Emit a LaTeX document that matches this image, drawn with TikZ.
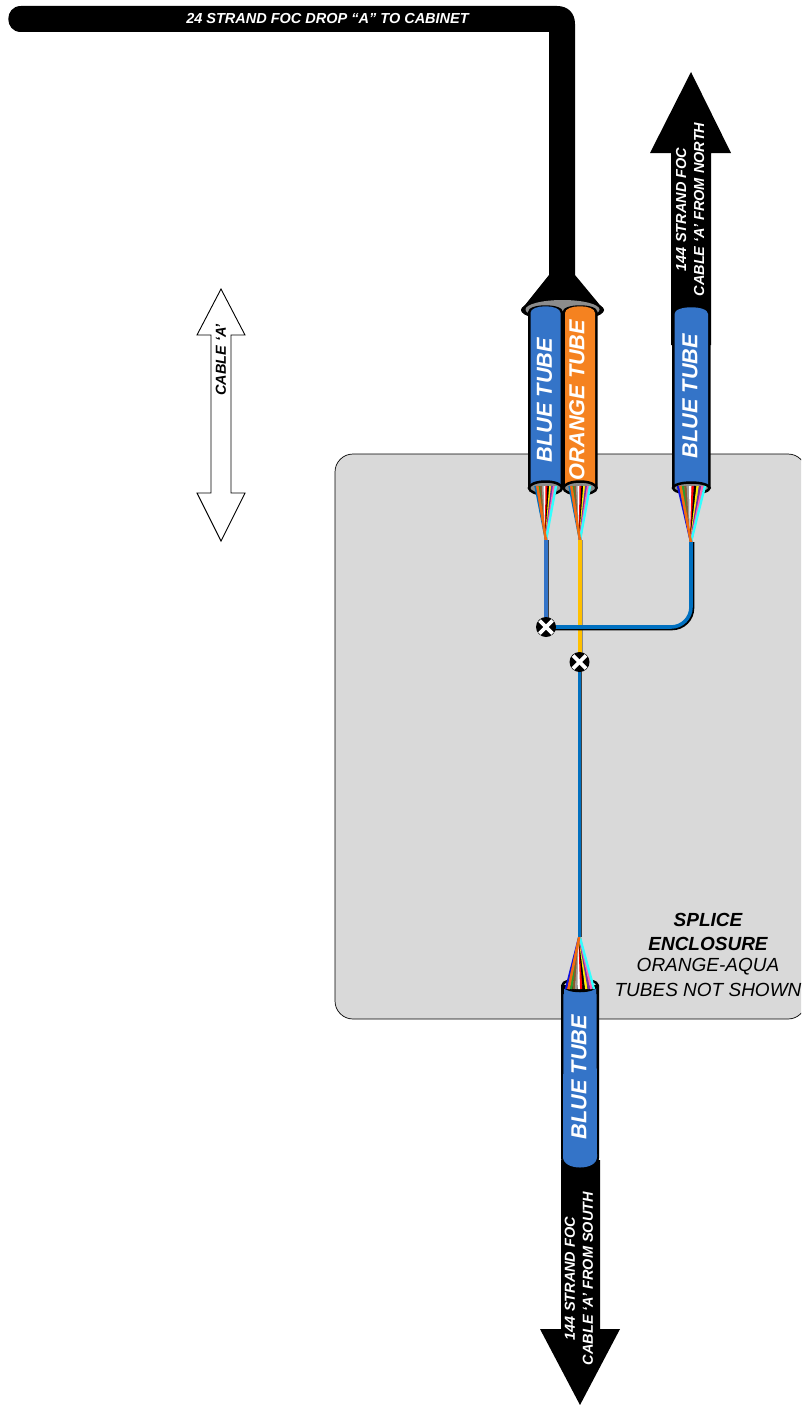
\documentclass[tikz,border=0pt]{standalone}
\usepackage{fontspec}
\setmainfont{Liberation Sans}
\definecolor{tubeblue}{HTML}{3474C8}
\definecolor{tubeorange}{HTML}{F58220}
\definecolor{boxgray}{HTML}{D9D9D9}
\definecolor{fibblue}{HTML}{0070C0}
\definecolor{fibyellow}{HTML}{FFC000}
\definecolor{rimgray}{HTML}{8C8C8C}
\definecolor{fibbrown}{HTML}{8B5A2B}
\definecolor{fibaqua}{HTML}{33FFFF}
\definecolor{fibviolet}{HTML}{7030A0}
\definecolor{fibpink}{HTML}{FF66B2}
\definecolor{fibgreen}{HTML}{22A030}
\definecolor{fibor}{HTML}{F26A10}
\definecolor{fibslate}{HTML}{999999}
\definecolor{fibdeep}{HTML}{1010E0}
\tikzset{
  lbl/.style={font=\bfseries\itshape\fontsize{14.5}{18}\selectfont,text=white,inner sep=0pt,align=center},
  tubetext/.style={font=\bfseries\itshape\fontsize{21.7}{24}\selectfont,text=white,inner sep=0pt,rotate=90},
  boxtext/.style={font=\itshape\fontsize{19}{20}\selectfont,inner sep=0pt},
  boxhead/.style={font=\bfseries\itshape\fontsize{19}{20}\selectfont,inner sep=0pt},
  fibershadow/.style={line width=3.6pt,line cap=butt},
  ball/.style={circle,fill=black,minimum size=20pt,inner sep=0pt,draw=none}
}
% fan: tipx tipy leftx rightx basey outer-blue-colour
\newcommand{\fibfan}[6]{%
  \foreach \c [count=\i from 0] in {#6,fibor,fibgreen,fibbrown,fibslate,white,red,black,yellow,fibviolet,fibpink,fibaqua}{%
    \draw[\c,line width=2.4pt] ({#3+\i*(#4-#3)/11},#5) -- (#1,#2);
  }%
  \draw[fibor,line width=2.4pt] ({#3+(#4-#3)/11},#5) -- (#1,#2);
}
% tube with opening at the bottom: xl xr top opening-y ry colour
\newcommand{\tubedown}[6]{%
  \fill[black] (#1,#3+6) .. controls (#1,#3-3) and (#2,#3-3) .. (#2,#3+6) -- (#2,#4) -- (#1,#4) -- cycle;
  \fill[#6] (#1+2.5,#3+7) .. controls (#1+2.5,#3-2) and (#2-2.5,#3-2) .. (#2-2.5,#3+7)
     -- (#2-2.5,#4) .. controls (#2-2.5,#4-#5) and (#1+2.5,#4-#5) .. (#1+2.5,#4) -- cycle;
  \draw[black,line width=2.5pt,fill=rimgray] ({(#1+#2)/2},#4) ellipse [x radius={(#2-#1)/2-1},y radius=#5];
}
\begin{document}
\begin{tikzpicture}[x=1pt,y=-1pt]
\useasboundingbox (0,0) rectangle (801,1405);
\begin{scope}
\clip (0,0) rectangle (801,1405);
% splice enclosure
\draw[black,line width=0.7pt,fill=boxgray,rounded corners=18pt] (335,454) rectangle (806,1019);

% top cable
\fill[black] (21,6) -- (557,6) .. controls (568,6) and (575,13) .. (575,24) -- (575,275) -- (604,310)
  .. controls (604,318) and (521,318) .. (521,310) -- (549,275) -- (549,32) -- (21,32)
  .. controls (4,32) and (4,6) .. (21,6) -- cycle;
\fill[black] (562.5,310) ellipse [x radius=41.5,y radius=11];
\fill[rimgray] (562.5,309.5) ellipse [x radius=37,y radius=9.5];

% north arrow
\fill[black] (691,72) -- (731,153) -- (711,153) -- (711,345) -- (671,345) -- (671,153) -- (650,153) -- cycle;
% south arrow
\fill[black] (561,1160) -- (600,1160) -- (600,1329) -- (620,1329) -- (580,1405) -- (540,1329) -- (561,1329) -- cycle;

% tubes
\tubedown{528}{563}{306}{488}{6.5}{tubeblue}
\tubedown{562.5}{597.5}{306}{488}{6.5}{tubeorange}
\tubedown{672}{710.5}{307}{488}{5.5}{tubeblue}

% fibres
\fibfan{546}{540}{535.5}{556}{486}{fibblue}
\fibfan{580}{540}{569.5}{590}{486}{fibblue}
\fibfan{691}{542}{678}{705}{486}{fibdeep}

% south tube
\fill[black] (561,985) -- (599,985) -- (599,1158) .. controls (599,1172) and (561,1172) .. (561,1158) -- cycle;
\fill[tubeblue] (563.5,986) .. controls (566,994) and (594,994) .. (596.5,986) -- (597,1157)
   .. controls (597,1171) and (563,1171) .. (563,1157) -- cycle;
\draw[black,line width=2.5pt] (562.5,994) -- (562.5,985) .. controls (562.5,978) and (597.5,978) .. (597.5,985) -- (597.5,994);
\draw[black,line width=2.5pt] (562.5,985) .. controls (566,993) and (594,993) .. (597.5,985);
\fibfan{579.5}{936}{566}{594}{989}{fibdeep}

% single fibre runs
\draw[black!75,fibershadow] (547,540) -- (547,627);
\draw[tubeblue,line width=3.6pt] (546,540) -- (546,627);
\draw[black!45,fibershadow] (581,540) -- (581,662);
\draw[fibyellow,line width=3.6pt] (580,540) -- (580,662);
\draw[black!75,fibershadow] (580.5,662) -- (580.5,937);
\draw[fibblue,line width=3.6pt] (579.5,662) -- (579.5,937);
\draw[black,line width=4.6pt,rounded corners=20pt] (692,542) -- (692,628) -- (546,628);
\draw[fibblue,line width=3.6pt,rounded corners=20pt] (691,542) -- (691,627) -- (546,627);

% splice points
\node[ball] (spliceA) at (546,627) {};
\node[ball] (spliceB) at (579.5,662) {};
\foreach \n in {spliceA,spliceB}{
  \draw[white,line width=3.6pt] ([shift={(-6.5,-6.5)}]\n.center) -- ([shift={(6.5,6.5)}]\n.center);
  \draw[white,line width=3.6pt] ([shift={(-6.5,6.5)}]\n.center) -- ([shift={(6.5,-6.5)}]\n.center);
}

% double arrow
\draw[black,line width=0.9pt,fill=white,line join=miter] (221,289) -- (245,335) -- (231,335) -- (231,493) -- (245,493) -- (221,541)
  -- (197,493) -- (211,493) -- (211,335) -- (197,335) -- cycle;
\end{scope}

% labels
\node[lbl] (droplabel) at (327.5,18.5) {24 STRAND FOC DROP “A” TO CABINET};
\node[lbl,rotate=90] (northlabel) at (690,209.5) {144 STRAND FOC\\CABLE ‘A’ FROM NORTH};
\node[lbl,rotate=90] (southlabel) at (579,1278.5) {144 STRAND FOC\\CABLE ‘A’ FROM SOUTH};
\node[lbl,rotate=90,text=black] (cablelabel) at (221,360) {CABLE ‘A’};
\node[tubetext] (t1) at (544.5,400) {BLUE TUBE};
\node[tubetext] (t2) at (577,400) {ORANGE TUBE};
\node[tubetext] (t3) at (690,396) {BLUE TUBE};
\node[tubetext] (t4) at (579,1077) {BLUE TUBE};
\node[boxhead] (s1) at (708,920) {SPLICE};
\node[boxhead] (s2) at (708,943.5) {ENCLOSURE};
\node[boxtext] (s3) at (708,966.5) {ORANGE-AQUA};
\node[boxtext] (s4) at (708,989.5) {TUBES NOT SHOWN};
\end{tikzpicture}
\end{document}
